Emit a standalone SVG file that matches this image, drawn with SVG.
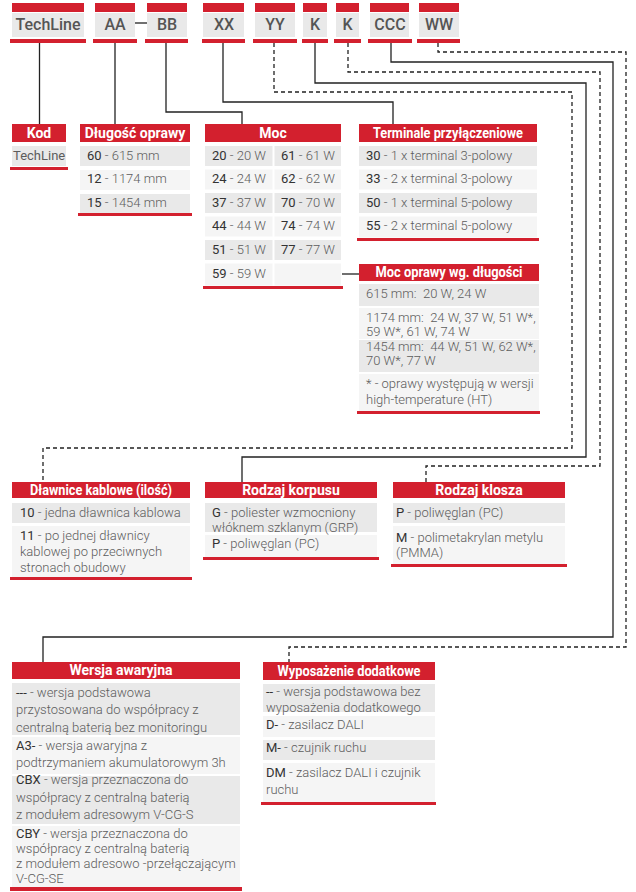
<svg xmlns="http://www.w3.org/2000/svg" width="636" height="892" viewBox="0 0 636 892">
<style>
.red{fill:#d3202e}
.g{fill:#e9e9e9}
.l{fill:#f5f5f5}
.ht{font-family:Roboto,"Liberation Sans",sans-serif;font-weight:700;font-size:14px;fill:#fff;text-anchor:middle}
.t{font-family:Roboto,"Liberation Sans",sans-serif;font-weight:300;font-size:13px;fill:#5c5c5c}
.b{font-weight:400;fill:#333}
.code{font-family:Roboto,"Liberation Sans",sans-serif;font-weight:500;font-size:16px;fill:#555;text-anchor:middle}
.c{fill:none;stroke:#222;stroke-width:1.3}
.d{stroke-dasharray:4 3}
.sep{stroke:#fff;stroke-width:2}
</style>
<rect width="636" height="892" fill="#fff"/>

<g id="connectors">
<path class="c" d="M135 23 H147"/>
<path class="c" d="M39.5 43 V124"/>
<path class="c" d="M115 43 V124"/>
<path class="c" d="M166 43 V112 H242 V124"/>
<path class="c" d="M223 43 V102 H393 V124"/>
<path class="c d" d="M274 43 V92 H572 V448 H43 V482"/>
<path class="c" d="M315 43 V83 H586 V457 H242 V482"/>
<path class="c d" d="M348 43 V72 H600 V466 H426 V482"/>
<path class="c" d="M391 43 V62 H613 V637 H43 V662"/>
<path class="c d" d="M438 43 V52 H626 V647 H289 V662"/>
<path class="c" d="M342 274 H359"/>
</g>

<g id="code-TechLine"><rect class="red" x="12" y="3" width="72" height="9"/><rect class="g" x="12" y="13" width="72" height="24"/><rect class="red" x="10" y="39" width="76" height="4"/><text class="code" x="48" y="30">TechLine</text></g>
<g id="code-AA"><rect class="red" x="95" y="3" width="40" height="9"/><rect class="g" x="95" y="13" width="40" height="24"/><rect class="red" x="93" y="39" width="44" height="4"/><text class="code" x="115" y="30">AA</text></g>
<g id="code-BB"><rect class="red" x="147" y="3" width="40" height="9"/><rect class="g" x="147" y="13" width="40" height="24"/><rect class="red" x="145" y="39" width="43" height="4"/><text class="code" x="167" y="30">BB</text></g>
<g id="code-XX"><rect class="red" x="203" y="3" width="41" height="9"/><rect class="g" x="203" y="13" width="41" height="24"/><rect class="red" x="202" y="39" width="43" height="4"/><text class="code" x="224" y="30">XX</text></g>
<g id="code-YY"><rect class="red" x="255" y="3" width="40" height="9"/><rect class="g" x="255" y="13" width="40" height="24"/><rect class="red" x="253" y="39" width="44" height="4"/><text class="code" x="275" y="30">YY</text></g>
<g id="code-K1"><rect class="red" x="303" y="3" width="24" height="9"/><rect class="g" x="303" y="13" width="24" height="24"/><rect class="red" x="302" y="39" width="26" height="4"/><text class="code" x="315" y="30">K</text></g>
<g id="code-K2"><rect class="red" x="336" y="3" width="23" height="9"/><rect class="g" x="336" y="13" width="23" height="24"/><rect class="red" x="334" y="39" width="27" height="4"/><text class="code" x="347.5" y="30">K</text></g>
<g id="code-CCC"><rect class="red" x="370" y="3" width="39" height="9"/><rect class="g" x="370" y="13" width="39" height="24"/><rect class="red" x="368" y="39" width="44" height="4"/><text class="code" x="390" y="30">CCC</text></g>
<g id="code-WW"><rect class="red" x="419" y="3" width="40" height="9"/><rect class="g" x="419" y="13" width="40" height="24"/><rect class="red" x="417" y="39" width="43" height="4"/><text class="code" x="439" y="30">WW</text></g>

<g id="kod">
<rect class="red" x="12" y="124" width="54" height="18"/><text class="ht" x="39" y="138">Kod</text>
<rect class="g" x="12" y="146" width="54" height="20"/>
<rect class="red" x="10" y="167" width="58" height="3"/>
<text class="t" x="13" y="160" style="font-weight:400">TechLine</text>
</g>

<g id="dlugosc">
<rect class="red" x="80" y="124" width="110" height="18"/><text class="ht" x="135" y="138">Długość oprawy</text>
<rect class="g" x="80" y="146" width="110" height="20"/>
<rect class="l" x="80" y="170" width="110" height="20"/>
<rect class="g" x="80" y="194" width="110" height="19"/>
<rect class="red" x="78" y="213" width="114" height="3"/>
<text class="t" x="87" y="160"><tspan class="b">60</tspan> - 615 mm</text>
<text class="t" x="87" y="183"><tspan class="b">12</tspan> - 1174 mm</text>
<text class="t" x="87" y="207"><tspan class="b">15</tspan> - 1454 mm</text>
</g>

<g id="moc">
<rect class="red" x="205" y="124" width="136" height="18"/><text class="ht" x="273" y="138">Moc</text>
<rect class="g" x="205" y="146" width="136" height="20"/>
<rect class="l" x="205" y="169.5" width="136" height="20"/>
<rect class="g" x="205" y="193" width="136" height="20"/>
<rect class="l" x="205" y="216.5" width="136" height="20"/>
<rect class="g" x="205" y="240" width="136" height="20"/>
<rect class="l" x="205" y="263.5" width="136" height="22"/>
<path class="sep" d="M273.5 146 V286"/>
<rect class="red" x="203" y="286" width="140" height="3"/>
<text class="t" x="212" y="160"><tspan class="b">20</tspan> - 20 W</text>
<text class="t" x="281" y="160"><tspan class="b">61</tspan> - 61 W</text>
<text class="t" x="212" y="183"><tspan class="b">24</tspan> - 24 W</text>
<text class="t" x="281" y="183"><tspan class="b">62</tspan> - 62 W</text>
<text class="t" x="212" y="207"><tspan class="b">37</tspan> - 37 W</text>
<text class="t" x="281" y="207"><tspan class="b">70</tspan> - 70 W</text>
<text class="t" x="212" y="230"><tspan class="b">44</tspan> - 44 W</text>
<text class="t" x="281" y="230"><tspan class="b">74</tspan> - 74 W</text>
<text class="t" x="212" y="254"><tspan class="b">51</tspan> - 51 W</text>
<text class="t" x="281" y="254"><tspan class="b">77</tspan> - 77 W</text>
<text class="t" x="212" y="278"><tspan class="b">59</tspan> - 59 W</text>
</g>

<g id="terminale">
<rect class="red" x="359" y="124" width="178" height="18"/><text class="ht" x="448" y="138" textLength="150" lengthAdjust="spacingAndGlyphs">Terminale przyłączeniowe</text>
<rect class="g" x="359" y="146" width="178" height="20"/>
<rect class="l" x="359" y="169.5" width="178" height="20"/>
<rect class="g" x="359" y="193" width="178" height="20"/>
<rect class="l" x="359" y="216.5" width="178" height="21"/>
<rect class="red" x="357" y="238" width="182" height="3"/>
<text class="t" x="366" y="160"><tspan class="b">30</tspan> - 1 x terminal 3-polowy</text>
<text class="t" x="366" y="183"><tspan class="b">33</tspan> - 2 x terminal 3-polowy</text>
<text class="t" x="366" y="207"><tspan class="b">50</tspan> - 1 x terminal 5-polowy</text>
<text class="t" x="366" y="230"><tspan class="b">55</tspan> - 2 x terminal 5-polowy</text>
</g>

<g id="moc-oprawy">
<rect class="red" x="359" y="264" width="180" height="17"/><text class="ht" x="449" y="277" textLength="147" lengthAdjust="spacingAndGlyphs">Moc oprawy wg. długości</text>
<rect class="g" x="359" y="284" width="180" height="22"/>
<rect class="l" x="359" y="308" width="180" height="31"/>
<rect class="g" x="359" y="340" width="180" height="32"/>
<rect class="l" x="359" y="374" width="180" height="37"/>
<rect class="red" x="357" y="411" width="183" height="3"/>
<text class="t" x="366" y="298" xml:space="preserve">615 mm:  20 W, 24 W</text>
<text class="t" x="366" y="322" xml:space="preserve">1174 mm:  24 W, 37 W, 51 W*,</text>
<text class="t" x="366" y="336">59 W*, 61 W, 74 W</text>
<text class="t" x="366" y="351" xml:space="preserve">1454 mm:  44 W, 51 W, 62 W*,</text>
<text class="t" x="366" y="365">70 W*, 77 W</text>
<text class="t" x="366" y="388">* - oprawy występują w wersji</text>
<text class="t" x="366" y="404">high-temperature (HT)</text>
</g>

<g id="dlawnice">
<rect class="red" x="12" y="482" width="178" height="16"/><text class="ht" x="101" y="495" textLength="142" lengthAdjust="spacingAndGlyphs">Dławnice kablowe (ilość)</text>
<rect class="g" x="12" y="503" width="178" height="20"/>
<rect class="l" x="12" y="526" width="178" height="51"/>
<rect class="red" x="10" y="577" width="182" height="3"/>
<text class="t" x="20" y="517"><tspan class="b">10</tspan> - jedna dławnica kablowa</text>
<text class="t" x="20" y="540"><tspan class="b">11</tspan> - po jednej dławnicy</text>
<text class="t" x="20" y="556">kablowej po przeciwnych</text>
<text class="t" x="20" y="572">stronach obudowy</text>
</g>

<g id="korpus">
<rect class="red" x="205" y="482" width="172" height="16"/><text class="ht" x="291" y="495">Rodzaj korpusu</text>
<rect class="g" x="205" y="503" width="172" height="29"/>
<rect class="l" x="205" y="535" width="172" height="22"/>
<rect class="red" x="203" y="557" width="176" height="3"/>
<text class="t" x="212" y="517"><tspan class="b">G</tspan> - poliester wzmocniony</text>
<text class="t" x="212" y="532">włóknem szklanym (GRP)</text>
<text class="t" x="212" y="548"><tspan class="b">P</tspan> - poliwęglan (PC)</text>
</g>

<g id="klosz">
<rect class="red" x="393" y="482" width="172" height="16"/><text class="ht" x="479" y="495">Rodzaj klosza</text>
<rect class="g" x="393" y="503" width="172" height="20"/>
<rect class="l" x="393" y="526" width="172" height="38"/>
<rect class="red" x="391" y="564" width="176" height="3"/>
<text class="t" x="396" y="517"><tspan class="b">P</tspan> - poliwęglan (PC)</text>
<text class="t" x="396" y="542"><tspan class="b">M</tspan> - polimetakrylan metylu</text>
<text class="t" x="396" y="557">(PMMA)</text>
</g>

<g id="wersja">
<rect class="red" x="12" y="662" width="228" height="17"/><text class="ht" x="121" y="675">Wersja awaryjna</text>
<rect class="g" x="12" y="683" width="228" height="52"/>
<rect class="l" x="12" y="737" width="228" height="37"/>
<rect class="g" x="12" y="776" width="228" height="48"/>
<rect class="l" x="12" y="826" width="228" height="61"/>
<rect class="red" x="10" y="887" width="232" height="4"/>
<text class="t" x="16" y="697"><tspan class="b">---</tspan> - wersja podstawowa</text>
<text class="t" x="16" y="714">przystosowana do współpracy z</text>
<text class="t" x="16" y="732">centralną baterią bez monitoringu</text>
<text class="t" x="16" y="750"><tspan class="b">A3-</tspan> - wersja awaryjna z</text>
<text class="t" x="16" y="767">podtrzymaniem akumulatorowym 3h</text>
<text class="t" x="16" y="784"><tspan class="b">CBX</tspan> - wersja przeznaczona do</text>
<text class="t" x="16" y="802">współpracy z centralną baterią</text>
<text class="t" x="16" y="819">z modułem adresowym V-CG-S</text>
<text class="t" x="16" y="838"><tspan class="b">CBY</tspan> - wersja przeznaczona do</text>
<text class="t" x="16" y="853">współpracy z centralną baterią</text>
<text class="t" x="16" y="868">z modułem adresowo -przełączającym</text>
<text class="t" x="16" y="883">V-CG-SE</text>
</g>

<g id="wyposazenie">
<rect class="red" x="263" y="662" width="172" height="18"/><text class="ht" x="349" y="676" textLength="143" lengthAdjust="spacingAndGlyphs">Wyposażenie dodatkowe</text>
<rect class="g" x="263" y="684" width="172" height="28"/>
<rect class="l" x="263" y="716" width="172" height="21"/>
<rect class="g" x="263" y="740" width="172" height="20"/>
<rect class="l" x="263" y="763" width="172" height="39"/>
<rect class="red" x="261" y="802" width="175" height="3"/>
<text class="t" x="266" y="696"><tspan class="b">--</tspan> - wersja podstawowa bez</text>
<text class="t" x="266" y="712">wyposażenia dodatkowego</text>
<text class="t" x="266" y="729"><tspan class="b">D-</tspan> - zasilacz DALI</text>
<text class="t" x="266" y="752"><tspan class="b">M-</tspan> - czujnik ruchu</text>
<text class="t" x="266" y="777"><tspan class="b">DM</tspan> - zasilacz DALI i czujnik</text>
<text class="t" x="266" y="794">ruchu</text>
</g>
</svg>
